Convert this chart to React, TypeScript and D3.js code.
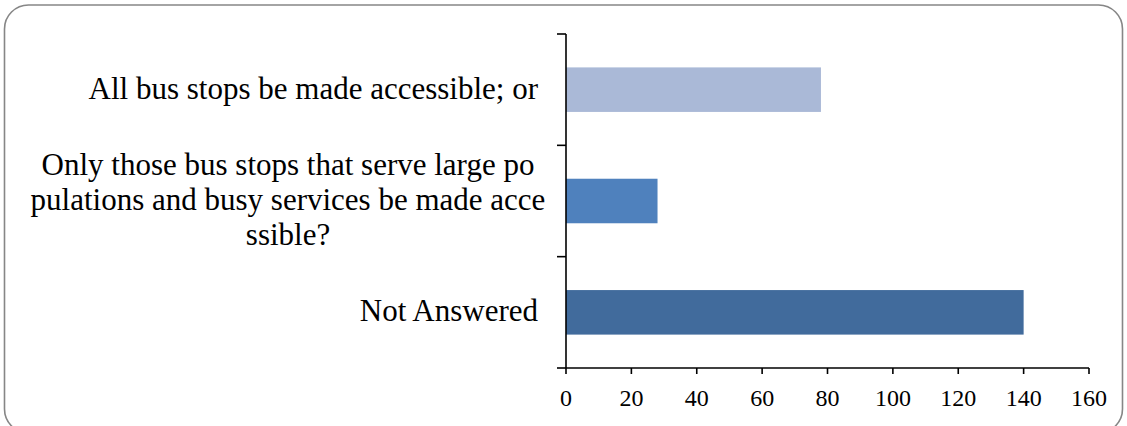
import React from "react";
import * as d3 from "d3";

const categories: string[][] = [
  ["All bus stops be made accessible; or"],
  [
    "Only those bus stops that serve large po",
    "pulations and busy services be made acce",
    "ssible?",
  ],
  ["Not Answered"],
];
const values: number[] = [78, 28, 140];
const barColors: string[] = ["#AAB9D7", "#4F81BD", "#416B9C"];
const xTicks: number[] = [0, 20, 40, 60, 80, 100, 120, 140, 160];

const W = 1127;
const H = 426;
const plot = { left: 566, right: 1089, top: 34, bottom: 368 };
const font = "'Liberation Serif', 'Times New Roman', serif";

export default function App() {
  const x = d3.scaleLinear().domain([0, 160]).range([plot.left, plot.right]);
  const bandStep = (plot.bottom - plot.top) / categories.length;
  const barH = bandStep * 0.4;
  const center = (i: number) => plot.top + bandStep * (i + 0.5);
  const yTickPos = d3.range(categories.length + 1).map((i) => plot.top + bandStep * i);
  const lineH = 35;
  const labelRight = 538;

  return (
    <svg
      width={W}
      height={H}
      style={{ position: "absolute", left: 0, top: 0, background: "#fff" }}
    >
      <rect
        x={4.5}
        y={5}
        width={1118}
        height={428}
        rx={24}
        ry={24}
        fill="#fff"
        stroke="#868686"
        strokeWidth={1.6}
      />
      {values.map((v, i) => (
        <rect
          key={i}
          x={x(0)}
          y={center(i) - barH / 2}
          width={x(v) - x(0)}
          height={barH}
          fill={barColors[i]}
        />
      ))}
      <line x1={plot.left} x2={plot.left} y1={plot.top} y2={plot.bottom} stroke="#000" strokeWidth={1.6} />
      {yTickPos.map((t, i) => (
        <line key={i} x1={plot.left - 9} x2={plot.left} y1={t} y2={t} stroke="#000" strokeWidth={1.6} />
      ))}
      <line x1={plot.left} x2={plot.right} y1={plot.bottom} y2={plot.bottom} stroke="#000" strokeWidth={1.6} />
      {xTicks.map((t) => (
        <g key={t}>
          <line x1={x(t)} x2={x(t)} y1={plot.bottom} y2={plot.bottom + 6} stroke="#000" strokeWidth={1.6} />
          <text
            x={x(t)}
            y={406}
            textAnchor="middle"
            fontFamily={font}
            fontSize={24}
            fill="#000"
          >
            {t}
          </text>
        </g>
      ))}
      {categories.map((lines, i) => {
        const n = lines.length;
        if (n === 1) {
          return (
            <text
              key={i}
              x={labelRight}
              y={center(i) + 9}
              textAnchor="end"
              fontFamily={font}
              fontSize={31}
              fill="#000"
            >
              {lines[0]}
            </text>
          );
        }
        const c = 288;
        return (
          <text key={i} fontFamily={font} fontSize={31} fill="#000" textAnchor="middle">
            {lines.map((l, j) => (
              <tspan key={j} x={c} y={center(i) + 9 + (j - (n - 1) / 2) * lineH}>
                {l}
              </tspan>
            ))}
          </text>
        );
      })}
    </svg>
  );
}
